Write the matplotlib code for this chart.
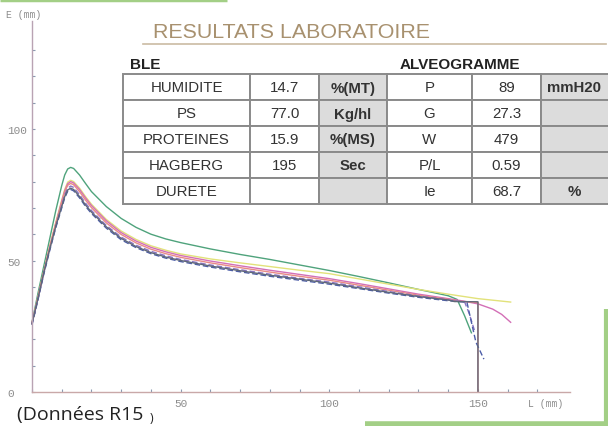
import matplotlib
matplotlib.use("Agg")
import matplotlib.pyplot as plt
from matplotlib.patches import Rectangle

# ---------------- data ----------------
L_grid = [0, 2, 4, 6, 8, 10, 11, 12, 13, 14, 16, 18, 20, 25, 30, 35, 40, 45, 50,
          60, 70, 80, 90, 100, 110, 120, 130, 140]

green_E = [26.5, 37.5, 48, 58.5, 69, 78.5, 82.5, 84.8, 85.4, 85, 82.5, 79.3, 76.2, 70.5,
           66, 62.6, 60, 58.2, 56.8, 54.4, 52.3, 50.4, 48.3, 46.2, 43.9, 41.5, 39, 36.6]
green_tail_L = [143, 145.5, 147.8]
green_tail_E = [35.2, 29, 22.5]

yellow_E = [26, 36, 46, 55.5, 64.5, 73, 77, 79.8, 80.5, 80, 77.5, 74.3, 71.4, 65.6,
            61.2, 58, 55.6, 53.9, 52.5, 50.6, 49.1, 47.7, 46.3, 45, 43, 41, 39, 37.2]
yellow_tail_L = [150, 161]
yellow_tail_E = [35.5, 34.2]

pink_E = [26, 35.5, 45.5, 55, 64, 72.5, 76.5, 79.2, 80, 79.5, 77, 73.8, 70.9, 65.1,
          60.6, 57.4, 55, 53.3, 51.9, 49.8, 48, 46.3, 44.7, 43.1, 41.2, 39.2, 37.2, 35.5]
pink_tail_L = [145, 150, 155, 158, 161]
pink_tail_E = [34.6, 33.5, 31.5, 29.5, 26.5]

red_E = [26.5, 36, 46, 55.5, 64, 72, 76, 78.6, 79.3, 78.8, 76.2, 73, 70.1, 64.3,
         59.9, 56.7, 54.3, 52.6, 51.2, 49.1, 47.3, 45.6, 44, 42.5, 40.6, 38.7, 36.8, 35.2]
red_tail_L = [145, 150, 150]
red_tail_E = [34.4, 34, 0]

purple_E = [26, 35.5, 45.5, 54.5, 63, 71, 75, 77.5, 78.3, 77.8, 75, 71.8, 69, 63.3,
            58.9, 55.8, 53.5, 51.8, 50.4, 48.3, 46.5, 44.8, 43.2, 41.8, 40, 38.2, 36.5, 35]
purple_tail_L = [145.5, 147, 148.8]
purple_tail_E = [34.3, 30, 23.5]

blue_E = [25.5, 35, 45, 54, 62.5, 70, 73.8, 76.3, 77, 76.5, 73.8, 70.6, 67.9, 62.3,
          57.9, 54.9, 52.6, 50.9, 49.6, 47.5, 45.7, 44, 42.5, 41, 39.3, 37.6, 36, 34.7]
blue_tail_L = [146.3, 149.3, 152]
blue_tail_E = [34.1, 19, 12.5]

gray_E = [26, 35.5, 45.5, 54.5, 63, 70.5, 74.3, 76.8, 77.5, 77, 74.3, 71.1, 68.4, 62.8,
          58.4, 55.3, 53, 51.3, 50, 47.9, 46.1, 44.4, 42.9, 41.4, 39.6, 37.9, 36.3, 35]
gray_tail_L = [142, 150, 150]
gray_tail_E = [34.4, 34.3, 0]

x_ticks = [0, 10, 20, 30, 40, 50, 60, 70, 80, 90, 100, 110, 120, 130, 140, 150, 160, 170]
x_tick_labels = ["", "", "", "", "", "50", "", "", "", "", "100", "", "", "", "", "150", "", ""]
y_ticks = [0, 10, 20, 30, 40, 50, 60, 70, 80, 90, 100, 110, 120, 130]
y_tick_labels = ["0", "", "", "", "", "50", "", "", "", "", "100", "", "", ""]

title_text = "RESULTATS LABORATOIRE"
ble_labels = ["HUMIDITE", "PS", "PROTEINES", "HAGBERG", "DURETE"]
ble_values = ["14.7", "77.0", "15.9", "195", ""]
ble_units = ["%(MT)", "Kg/hl", "%(MS)", "Sec", ""]
alveo_labels = ["P", "G", "W", "P/L", "Ie"]
alveo_values = ["89", "27.3", "479", "0.59", "68.7"]
alveo_units = ["mmH20", "", "", "", "%"]
caption = "(Données R15"

# ---------------- figure ----------------
W, H = 608, 427
fig = plt.figure(figsize=(W / 100, H / 100), dpi=100)
fig.patch.set_facecolor("white")

x0, y0 = 32, 393
sx, sy = 2.973, 2.63
ax = fig.add_axes([x0 / W, (H - y0) / H, 538 / W, 371 / H])
ax.set_xlim(0, 538 / sx)
ax.set_ylim(0, 371 / sy)
ax.set_facecolor("none")
for s in ("top", "right"):
    ax.spines[s].set_visible(False)
ax.spines["left"].set_color("#b9a3b3")
ax.spines["bottom"].set_color("#c9a8a8")
ax.spines["left"].set_linewidth(1.0)
ax.spines["bottom"].set_linewidth(1.0)

ax.set_xticks(x_ticks)
ax.set_xticklabels(x_tick_labels)
ax.set_yticks(y_ticks)
ax.set_yticklabels(y_tick_labels)
ax.tick_params(axis="x", direction="in", length=2.5, width=0.8, color="#8a9ab0",
               labelsize=8, labelcolor="#8c8c8c", pad=4)
ax.tick_params(axis="y", direction="in", length=2.5, width=0.8, color="#8a9ab0",
               labelsize=8, labelcolor="#8c8c8c", pad=18)
for lab in ax.get_xticklabels() + ax.get_yticklabels():
    lab.set_family(["Liberation Mono", "DejaVu Sans Mono"])
for lab in ax.get_yticklabels():
    lab.set_ha("left")

curves = [
    (green_E, green_tail_L, green_tail_E, "#4fa37c", "-"),
    (yellow_E, yellow_tail_L, yellow_tail_E, "#e2e27a", "-"),
    (pink_E, pink_tail_L, pink_tail_E, "#d36fb6", "-"),
    (red_E, red_tail_L, red_tail_E, "#e88a86", "-"),
    (purple_E, purple_tail_L, purple_tail_E, "#8a73c4", (0, (4, 2))),
    (blue_E, blue_tail_L, blue_tail_E, "#4c5da8", (0, (4, 2))),
    (gray_E, gray_tail_L, gray_tail_E, "#5f6878", "-"),
]
for E, tl, te, c, ls in curves:
    ax.plot(L_grid + tl, E + te, color=c, lw=1.0, ls=ls, clip_on=False)

ax.text(167, -4.3, "L (mm)", fontsize=7, color="#8c8c8c",
        family=["Liberation Mono", "DejaVu Sans Mono"], va="center", ha="left")

# ---------------- overlay (pixel coordinates) ----------------
ov = fig.add_axes([0, 0, 1, 1], zorder=5)
ov.set_xlim(0, W)
ov.set_ylim(H, 0)
ov.axis("off")
ov.patch.set_alpha(0)

ov.text(6, 15, "E (mm)", fontsize=7, color="#8c8c8c",
        family=["Liberation Mono", "DejaVu Sans Mono"], va="center", ha="left")

# decorative green lines
green_deco = "#a3cf86"
ov.plot([0, 227], [1, 1], color=green_deco, lw=2.5, solid_capstyle="butt")
ov.plot([606, 606], [310, 427], color=green_deco, lw=3, solid_capstyle="butt")
ov.plot([365, 608], [424.5, 424.5], color=green_deco, lw=4, solid_capstyle="butt")

# title
ov.text(153, 33, title_text, fontsize=15.4, color="#a8916f",
        family=["Liberation Sans", "DejaVu Sans"], va="center", ha="left")
ov.plot([143, 606], [45, 45], color="#cbbba3", lw=1.2)

# table
tf = ["Liberation Sans", "DejaVu Sans"]
ov.text(130, 65, "BLE", fontsize=11, fontweight="bold", color="#222222",
        family=tf, va="center", ha="left")
ov.text(400, 65, "ALVEOGRAMME", fontsize=11, fontweight="bold", color="#222222",
        family=tf, va="center", ha="left")

col_edges = [123, 250, 319, 387, 472, 541, 612]
row_edges = [75, 101, 127, 153, 179, 205]
gray_cols = [2, 5]
for r in range(5):
    for c in range(6):
        xa, xb = col_edges[c], col_edges[c + 1]
        ya, yb = row_edges[r], row_edges[r + 1]
        fc = "#dcdcdc" if c in gray_cols else "white"
        ov.add_patch(Rectangle((xa, ya), xb - xa, yb - ya, facecolor=fc,
                               edgecolor="#8a8a8a", lw=1.4))

rows = list(zip(ble_labels, ble_values, ble_units,
                alveo_labels, alveo_values, alveo_units))
for r, cells in enumerate(rows):
    yc = (row_edges[r] + row_edges[r + 1]) / 2 + 0.5
    for c, txt in enumerate(cells):
        if not txt:
            continue
        xa, xb = col_edges[c], min(col_edges[c + 1], 608)
        bold = c in gray_cols
        ov.text((xa + xb) / 2, yc, txt, fontsize=10.8,
                fontweight="bold" if bold else "normal", color="#333333",
                family=tf, va="center", ha="center")

# caption
ov.text(17, 415, caption, fontsize=14, color="#222222",
        family=["Open Sans", "DejaVu Sans"], va="center", ha="left")
ov.text(150, 419, ")", fontsize=9, color="#222222",
        family=["Open Sans", "DejaVu Sans"], va="center", ha="left")

fig.savefig("out.png", dpi=100, facecolor="white")
